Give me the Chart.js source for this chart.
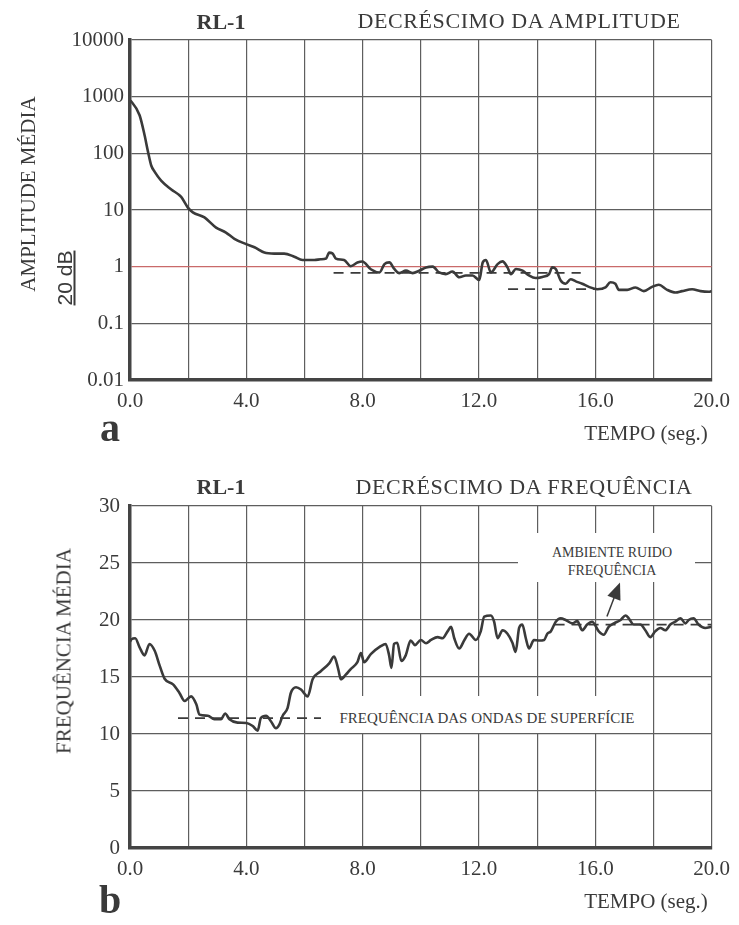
<!DOCTYPE html>
<html>
<head>
<meta charset="utf-8">
<script src="https://cdn.jsdelivr.net/npm/chart.js@4.4.1/dist/chart.umd.min.js"></script>
<style>
  body { margin: 0; background: #fff; width: 739px; height: 925px; position: relative; overflow: hidden;
         font-family: 'Liberation Serif', 'Times New Roman', serif; color: #3a3a3a; }
  canvas { position: absolute; left: 0; }
  .lbl { position: absolute; white-space: nowrap; transform: translate(-50%, -50%); line-height: 1; }
  .rot { transform: translate(-50%, -50%) rotate(-90deg); }
  .box { position: absolute; background: #fff; }
</style>
</head>
<body>
<canvas id="chartAmp" width="739" height="460" style="top:0"></canvas>
<canvas id="chartFreq" width="739" height="465" style="top:460px"></canvas>

<!-- textos do gráfico a -->
<div class="lbl" style="left:221px;top:22px;font-size:22px;font-weight:bold">RL-1</div>
<div class="lbl" style="left:519px;top:21px;font-size:22px;letter-spacing:0.6px">DECRÉSCIMO DA AMPLITUDE</div>
<div class="lbl rot" style="left:28px;top:194px;font-size:21px">AMPLITUDE MÉDIA</div>
<div class="lbl rot" style="left:64px;top:278px;font-size:21px;font-family:'Liberation Sans',sans-serif;text-decoration:underline">20 dB</div>
<div class="lbl" style="left:110px;top:428px;font-size:40px;font-weight:bold">a</div>
<div class="lbl" style="left:646px;top:433px;font-size:21px">TEMPO (seg.)</div>

<!-- textos do gráfico b -->
<div class="lbl" style="left:221px;top:487px;font-size:22px;font-weight:bold">RL-1</div>
<div class="lbl" style="left:524px;top:487px;font-size:22px;letter-spacing:0.6px">DECRÉSCIMO DA FREQUÊNCIA</div>
<div class="lbl rot" style="left:64px;top:651px;font-size:21px">FREQUÊNCIA MÉDIA</div>
<div class="lbl" style="left:110px;top:900px;font-size:40px;font-weight:bold">b</div>
<div class="lbl" style="left:646px;top:901px;font-size:21px">TEMPO (seg.)</div>

<div class="box" style="left:518px;top:533px;width:177px;height:49px"></div>
<div class="lbl" style="left:612px;top:553px;font-size:14px">AMBIENTE RUIDO</div>
<div class="lbl" style="left:612px;top:571px;font-size:14px">FREQUÊNCIA</div>
<div class="box" style="left:321px;top:696px;width:332px;height:37px"></div>
<div class="lbl" style="left:487px;top:718px;font-size:15px">FREQUÊNCIA DAS ONDAS DE SUPERFÍCIE</div>

<script>
// ---- dados ----
const xTicks = [0, 2, 4, 6, 8, 10, 12, 14, 16, 18, 20];
const ampTicks = [0.01, 0.1, 1, 10, 100, 1000, 10000];
const freqTicks = [0, 5, 10, 15, 20, 25, 30];

// a: amplitude média x tempo
const ampTime = [0, 0.05, 0.33, 0.5, 0.62, 0.73, 0.85, 1.07, 1.42, 1.76, 1.99, 2.16, 2.56, 2.96, 3.3, 3.59,
  3.99, 4.28, 4.62, 4.96, 5.3, 5.65, 5.93, 6.34, 6.56, 6.74, 6.85, 6.96, 7.08, 7.36, 7.59, 7.82, 7.99, 8.28,
  8.58, 8.75, 8.92, 9.09, 9.26, 9.49, 9.72, 9.95, 10.18, 10.41, 10.63, 10.86, 11.09, 11.32, 11.55, 11.78,
  12.01, 12.13, 12.24, 12.41, 12.64, 12.81, 12.98, 13.1, 13.27, 13.5, 13.72, 13.95, 14.18, 14.41, 14.52,
  14.64, 14.81, 14.98, 15.15, 15.33, 15.55, 15.78, 16.07, 16.35, 16.52, 16.69, 16.81, 17.1, 17.38, 17.67,
  17.95, 18.18, 18.47, 18.76, 18.98, 19.33, 19.62, 19.9, 20.0];
const ampValue = [850, 813, 470, 210, 106, 61, 47, 33, 23, 17, 11, 9.1, 7.4, 4.9, 4.0, 3.1,
  2.5, 2.2, 1.77, 1.7, 1.7, 1.5, 1.31, 1.31, 1.35, 1.39, 1.77, 1.72, 1.39, 1.31, 1.02, 1.18, 1.23, 0.9,
  0.79, 1.11, 1.19, 0.91, 0.77, 0.85, 0.77, 0.85, 0.97, 1.0, 0.79, 0.74, 0.82, 0.65, 0.7, 0.7,
  0.58, 1.19, 1.31, 0.79, 1.11, 1.24, 0.97, 0.74, 0.91, 0.85, 0.7, 0.63, 0.66, 0.74, 0.97,
  0.91, 0.57, 0.5, 0.6, 0.55, 0.5, 0.44, 0.4, 0.43, 0.53, 0.5, 0.39, 0.39, 0.43, 0.37,
  0.44, 0.48, 0.39, 0.35, 0.37, 0.4, 0.37, 0.36, 0.37];
// linhas tracejadas do gráfico a
const ampDash1Time = [7.0, 15.5];
const ampDash1Value = [0.78, 0.78];
const ampDash2Time = [13.0, 16.5];
const ampDash2Value = [0.4, 0.4];

// b: frequência média x tempo
const freqTime = [0, 0.05, 0.18, 0.33, 0.5, 0.67, 0.85, 1.02, 1.19, 1.48, 1.7, 1.88, 2.1, 2.28, 2.39, 2.68,
  2.9, 3.13, 3.27, 3.42, 3.7, 4.0, 4.22, 4.39, 4.5, 4.68, 4.85, 5.02, 5.13, 5.25, 5.42, 5.53, 5.71, 5.88,
  6.11, 6.28, 6.56, 6.85, 7.02, 7.16, 7.25, 7.42, 7.59, 7.82, 7.94, 8.05, 8.28, 8.62, 8.79, 8.91, 8.99,
  9.08, 9.19, 9.33, 9.48, 9.65, 9.8, 10.0, 10.18, 10.35, 10.58, 10.75, 10.92, 11.04, 11.15, 11.32, 11.5,
  11.66, 11.89, 12.06, 12.18, 12.41, 12.52, 12.64, 12.81, 12.98, 13.15, 13.26, 13.38, 13.49, 13.61, 13.72,
  13.89, 14.07, 14.24, 14.35, 14.47, 14.64, 14.81, 14.98, 15.21, 15.38, 15.55, 15.72, 15.89, 16.12, 16.29,
  16.46, 16.64, 16.87, 17.04, 17.15, 17.32, 17.55, 17.72, 17.89, 18.06, 18.24, 18.41, 18.58, 18.75, 18.93,
  19.1, 19.21, 19.38, 19.55, 19.78, 20.0];
const freqValue = [18.1, 18.3, 18.4, 17.6, 16.9, 17.9, 17.3, 16.0, 14.85, 14.35, 13.6, 12.9, 13.3, 12.6, 11.7, 11.6,
  11.3, 11.3, 11.8, 11.3, 11.0, 10.97, 10.7, 10.3, 11.4, 11.6, 11.1, 10.5, 10.8, 11.6, 12.3, 13.6, 14.1, 13.9,
  13.3, 14.8, 15.5, 16.2, 16.8, 15.7, 14.8, 15.2, 15.7, 16.3, 17.1, 16.3, 17.0, 17.7, 17.9, 16.9, 15.8,
  17.9, 18.0, 16.4, 16.9, 18.2, 17.8, 18.25, 17.96, 18.25, 18.5, 18.4, 19.0, 19.4, 18.4, 17.5, 18.25,
  18.8, 18.25, 19.0, 20.3, 20.4, 19.85, 18.4, 19.1, 18.8, 18.0, 17.2, 19.3, 19.6, 18.4, 17.5,
  18.25, 18.2, 18.25, 18.8, 19.0, 19.85, 20.15, 20.0, 19.7, 19.9, 19.1, 19.6, 19.85, 19.0, 18.7,
  19.4, 19.7, 20.0, 20.4, 20.15, 19.6, 19.6, 19.1, 18.5, 19.0, 19.3, 19.1, 19.6, 19.85, 20.15,
  19.7, 20.0, 20.15, 19.6, 19.3, 19.4];
// linhas tracejadas e seta do gráfico b
const surfDashTime = [1.65, 6.6];
const surfDashValue = [11.4, 11.4];
const noiseDashTime = [14.6, 20.0];
const noiseDashValue = [19.6, 19.6];
const arrowTime = [16.4, 16.85];
const arrowValue = [20.3, 23.3];

const INK = '#3a3a3a';
const GRID = '#5e5e5e';

function toXY(xs, ys) {
    return xs.map((x, i) => ({ x: x, y: ys[i] }));
}

function curve(xs, ys) {
    return {
        data: toXY(xs, ys),
        borderColor: INK,
        borderWidth: 2.6,
        pointRadius: 0,
        fill: false,
        cubicInterpolationMode: 'monotone'
    };
}

function dashed(xs, ys) {
    return {
        data: toXY(xs, ys),
        borderColor: INK,
        borderWidth: 1.8,
        borderDash: [10, 7],
        pointRadius: 0,
        fill: false,
        tension: 0
    };
}

function xScale() {
    return {
        type: 'linear',
        min: 0,
        max: 20,
        afterBuildTicks: s => { s.ticks = xTicks.map(v => ({ value: v })); },
        afterFit: s => { s.height = 34; },
        border: { color: '#444', width: 3.5 },
        grid: { color: GRID, lineWidth: 1.2, drawTicks: false },
        ticks: {
            autoSkip: false,
            maxRotation: 0,
            padding: 9,
            color: INK,
            font: { family: 'Liberation Serif', size: 21 },
            callback: v => (v % 4 === 0 ? v.toFixed(1) : '')
        }
    };
}

// desenha a seta "ambiente ruido"
const arrowPlugin = {
    id: 'arrow',
    afterDatasetsDraw(chart) {
        const xs = chart.scales.x, ys = chart.scales.y;
        const x0 = xs.getPixelForValue(arrowTime[0]), y0 = ys.getPixelForValue(arrowValue[0]);
        const x1 = xs.getPixelForValue(arrowTime[1]), y1 = ys.getPixelForValue(arrowValue[1]);
        const ang = Math.atan2(y1 - y0, x1 - x0);
        const ctx = chart.ctx;
        ctx.save();
        ctx.strokeStyle = INK;
        ctx.fillStyle = INK;
        ctx.lineWidth = 1.5;
        ctx.beginPath();
        ctx.moveTo(x0, y0);
        ctx.lineTo(x1 - 12 * Math.cos(ang), y1 - 12 * Math.sin(ang));
        ctx.stroke();
        ctx.beginPath();
        ctx.moveTo(x1, y1);
        ctx.lineTo(x1 - 17 * Math.cos(ang) + 7 * Math.sin(ang), y1 - 17 * Math.sin(ang) - 7 * Math.cos(ang));
        ctx.lineTo(x1 - 17 * Math.cos(ang) - 7 * Math.sin(ang), y1 - 17 * Math.sin(ang) + 7 * Math.cos(ang));
        ctx.closePath();
        ctx.fill();
        ctx.restore();
    }
};

// gráfico a - amplitude (escala log)
new Chart(document.getElementById('chartAmp'), {
    type: 'line',
    data: {
        datasets: [
            curve(ampTime, ampValue),
            dashed(ampDash1Time, ampDash1Value),
            dashed(ampDash2Time, ampDash2Value)
        ]
    },
    options: {
        responsive: false,
        animation: false,
        layout: { padding: { left: 55, right: 26, top: 40, bottom: 46 } },
        plugins: { legend: { display: false }, tooltip: { enabled: false } },
        scales: {
            x: xScale(),
            y: {
                type: 'logarithmic',
                min: 0.01,
                max: 10000,
                afterBuildTicks: s => { s.ticks = ampTicks.map(v => ({ value: v })); },
                afterFit: s => { s.width = 75; },
                border: { color: '#444', width: 3.5 },
                grid: {
                    drawTicks: false,
                    lineWidth: 1.2,
                    color: c => (c.tick && c.tick.value === 1 ? '#c96a6a' : GRID)
                },
                ticks: {
                    padding: 6,
                    color: INK,
                    font: { family: 'Liberation Serif', size: 21 },
                    callback: v => String(v)
                }
            }
        }
    }
});

// gráfico b - frequência
new Chart(document.getElementById('chartFreq'), {
    type: 'line',
    data: {
        datasets: [
            curve(freqTime, freqValue),
            dashed(surfDashTime, surfDashValue),
            dashed(noiseDashTime, noiseDashValue)
        ]
    },
    options: {
        responsive: false,
        animation: false,
        layout: { padding: { left: 80, right: 26, top: 46, bottom: 43 } },
        plugins: { legend: { display: false }, tooltip: { enabled: false } },
        scales: {
            x: xScale(),
            y: {
                type: 'linear',
                min: 0,
                max: 30,
                afterBuildTicks: s => { s.ticks = freqTicks.map(v => ({ value: v })); },
                afterFit: s => { s.width = 50; },
                border: { color: '#444', width: 3.5 },
                grid: { color: GRID, lineWidth: 1.2, drawTicks: false },
                ticks: {
                    padding: 10,
                    color: INK,
                    font: { family: 'Liberation Serif', size: 21 }
                }
            }
        }
    },
    plugins: [arrowPlugin]
});
</script>
</body>
</html>
